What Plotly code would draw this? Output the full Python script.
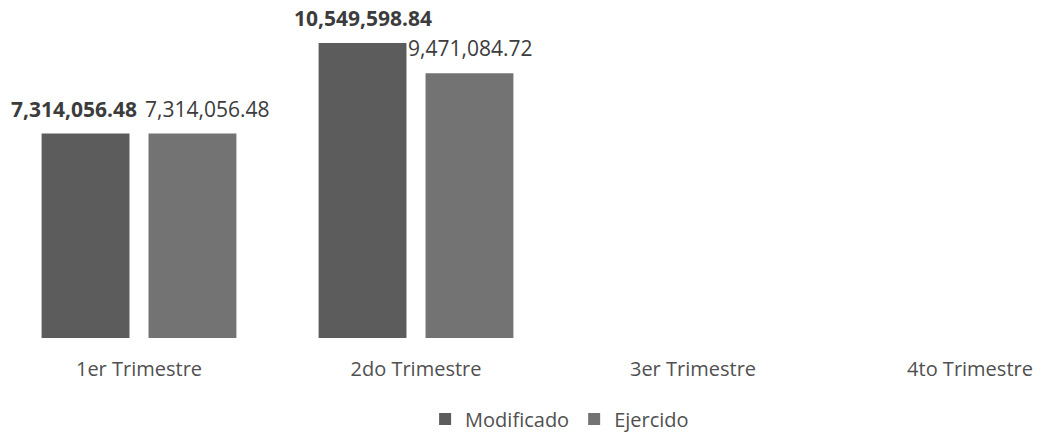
import plotly.graph_objects as go

categories = ["1er Trimestre", "2do Trimestre", "3er Trimestre", "4to Trimestre"]
modificado = [7314056.48, 10549598.84, None, None]
ejercido = [7314056.48, 9471084.72, None, None]
series_names = ["Modificado", "Ejercido"]

colors = ["#5c5c5c", "#737373"]
FONT = "Open Sans"
label_fonts = [dict(family=FONT, size=21, color="#3c3c3c", weight="bold"),
               dict(family=FONT, size=21, color="#3c3c3c")]

W, H = 1048, 433
group_px = 277
slot_px = 107
# extra horizontal nudges used to keep overlapping labels apart (pixels)
nudges = [[-12, 0, 0, 0], [14, 0, 0, 0]]

fig = go.Figure()
for name, vals, col in zip(series_names, [modificado, ejercido], colors):
    fig.add_trace(go.Bar(x=categories, y=vals, name=name,
                         marker=dict(color=col, line=dict(width=0))))

for si, vals in enumerate([modificado, ejercido]):
    base = (-0.5 if si == 0 else 0.5) * slot_px
    for ci, v in enumerate(vals):
        if v is None:
            continue
        fig.add_annotation(x=categories[ci], y=v, xref="x", yref="y",
                           text=f"{v:,.2f}", showarrow=False,
                           xshift=base + nudges[si][ci], yshift=25,
                           yanchor="middle", font=label_fonts[si])

r0 = -131 / group_px
r1 = r0 + W / group_px
plot_h = H - 2 - 103
fig.update_layout(
    width=W, height=H,
    margin=dict(l=0, r=0, t=2, b=103),
    paper_bgcolor="white", plot_bgcolor="white",
    barmode="group", bargap=0.228, bargroupgap=0.178,
    showlegend=True,
    legend=dict(orientation="h", x=0.398, xanchor="left", y=-81 / plot_h, yanchor="middle",
                font=dict(family=FONT, size=20, color="#505050"),
                itemwidth=30, traceorder="normal"),
    xaxis=dict(type="category", range=[r0, r1], showgrid=False, showline=False,
               zeroline=False, ticks="", tickfont=dict(family=FONT, size=20, color="#505050"),
               ticklabelstandoff=17),
    yaxis=dict(range=[0, plot_h / 27.96 * 1e6], visible=False, showgrid=False),
)
fig.write_html("out.html")
